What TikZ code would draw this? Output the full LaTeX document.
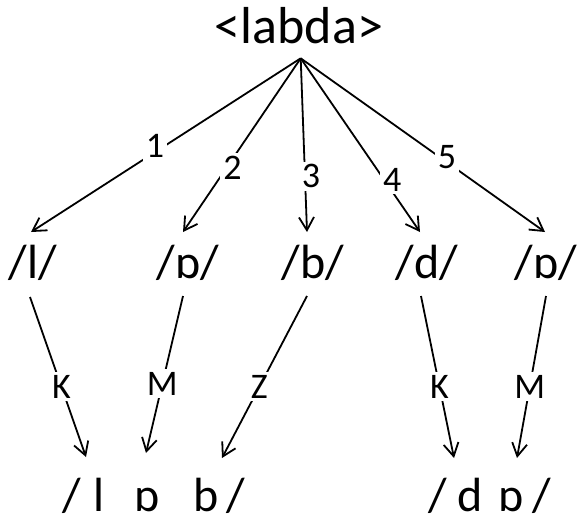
\documentclass[tikz,border=0pt]{standalone}
\usepackage{fontspec}
\setmainfont{Carlito}
\usetikzlibrary{arrows.meta}
\begin{document}
\begin{tikzpicture}[x=1pt,y=-1pt,
  big/.style={font=\fontsize{48}{48}\selectfont, inner sep=0pt, anchor=base},
  lab/.style={font=\fontsize{36}{36}\selectfont, fill=white, inner sep=3pt},
  edge/.style={line width=1.8pt, -{Straight Barb[length=13pt,width=15pt,line width=1.8pt]}}]
\useasboundingbox (0,0) rectangle (578,522);

% root word and the point where all branches meet
\node[big, font=\fontsize{52}{52}\selectfont] (root) at (299,43) {<labda>};
\coordinate (apex) at (300.7,58.3);

% the five readings
\node[big] (n1) at (33,278)  {/l/};
\node[big] (n2) at (188,278) {/ɒ/};
\node[big] (n3) at (313,278) {/b/};
\node[big] (n4) at (427,278) {/d/};
\node[big] (n5) at (546,278) {/ɒ/};

\coordinate (t1) at (31,232);
\coordinate (t2) at (183,232);
\coordinate (t3) at (307,232);
\coordinate (t4) at (420,232);
\coordinate (t5) at (545,232);

\draw[edge] (apex) -- node[lab,pos=0.54,yshift=6]{1} (t1);
\draw[edge] (apex) -- node[lab,pos=0.63,xshift=6]{2} (t2);
\draw[edge] (apex) -- node[lab,pos=0.68,xshift=6]{3} (t3);
\draw[edge] (apex) -- node[lab,pos=0.70,xshift=8]{4} (t4);
\draw[edge] (apex) -- node[lab,pos=0.57,xshift=7]{5} (t5);

% resulting forms
\node[big] (a1) at (72,511)  {/};
\node[big] (a2) at (99,511)  {l};
\node[big] (a3) at (147,511) {ɒ};
\node[big] (a4) at (206,511) {b};
\node[big] (a5) at (236,511) {/};
\node[big] (b1) at (438,511) {/};
\node[big] (b2) at (470,511) {d};
\node[big] (b3) at (511,511) {ɒ};
\node[big] (b4) at (542,511) {/};

\coordinate (s1) at (30,297);
\coordinate (s2) at (183,296);
\coordinate (s3) at (307,296);
\coordinate (s4) at (421,296);
\coordinate (s5) at (546,296);
\coordinate (e1) at (86,457);
\coordinate (e2) at (146,453);
\coordinate (e3) at (222,458);
\coordinate (e4) at (454,458);
\coordinate (e5) at (517,458);

\draw[edge] (s1) -- node[lab,pos=0.56]{K} (e1);
\draw[edge] (s2) -- node[lab,pos=0.56]{M} (e2);
\draw[edge] (s3) -- node[lab,pos=0.56]{Z} (e3);
\draw[edge] (s4) -- node[lab,pos=0.56]{K} (e4);
\draw[edge] (s5) -- node[lab,pos=0.56]{M} (e5);
\end{tikzpicture}
\end{document}
